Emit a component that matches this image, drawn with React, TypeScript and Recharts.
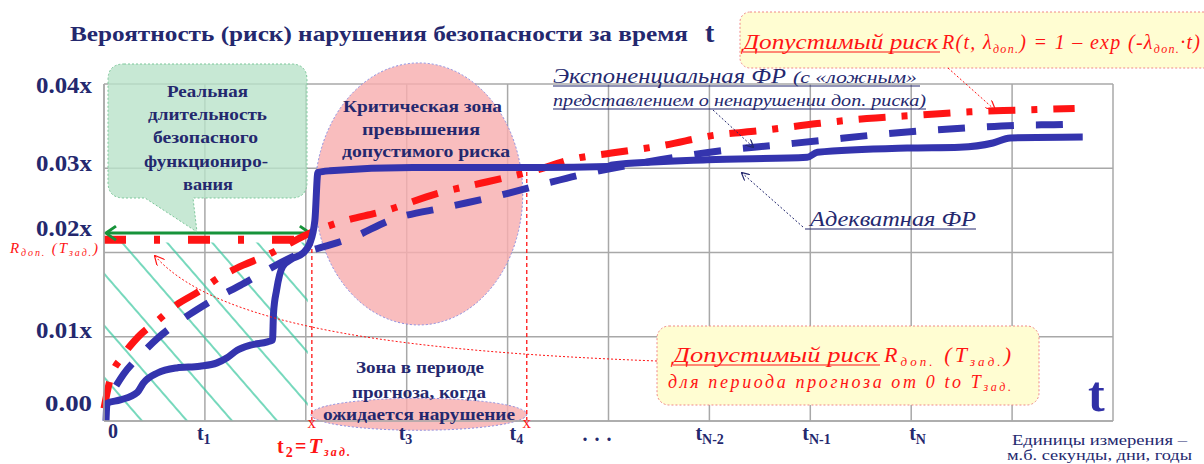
import React from 'react';
import {
  ComposedChart,
  Line,
  XAxis,
  YAxis,
  CartesianGrid,
  ReferenceArea,
  ReferenceLine,
  ReferenceDot,
} from 'recharts';

const NAVY = '#24286e';
const RED = '#ff1414';
const BLUE = '#3434ae';
const GRID = '#a8a8a8';
const SERIF = "'Liberation Serif', 'DejaVu Serif', 'Times New Roman', serif";
const FONT = { fontFamily: SERIF };

// axis ticks (grid units: x 0..10, y 0..4 -> 0.00..0.04)
const xTicks = [0, 1, 2, 3, 4, 5, 6, 7, 8, 9, 10];
const xTickMain = ['0', 't', 't', 't', 't', '. . .', 't', 't', 't', '', ''];
const xTickSub = ['', '1', '2', '3', '4', '', 'N-2', 'N-1', 'N', '', ''];
const yTicks = [0, 1, 2, 3, 4];
const yTickLabels = ['0.00', '0.01x', '0.02x', '0.03x', '0.04x'];

// "Адекватная ФР" - solid blue
const adequateX = [0.02, 0.03, 0.16, 0.33, 0.39, 0.53, 0.72, 0.95, 1.12, 1.22, 1.32, 1.45, 1.62, 1.67, 1.68, 1.71, 1.77, 1.87, 1.97, 2.04, 2.09, 2.12, 2.24, 3.06, 4.32, 4.99, 5.04, 5.98, 6.97, 7.07, 7.96, 8.48, 8.81, 8.98, 9.7];
const adequateY = [0.0, 0.21, 0.25, 0.34, 0.45, 0.57, 0.63, 0.65, 0.69, 0.75, 0.84, 0.9, 0.94, 0.96, 1.28, 1.55, 1.83, 1.93, 1.99, 2.11, 2.38, 2.95, 2.97, 3.01, 3.01, 3.02, 3.04, 3.1, 3.13, 3.19, 3.24, 3.25, 3.3, 3.36, 3.37];

// "Допустимый риск R(t)" - red dash-dot
const allowedX = [0.0, 0.06, 0.18, 0.34, 0.54, 0.72, 0.93, 1.15, 1.38, 1.62, 1.81, 2.06, 2.31, 2.8, 3.3, 3.8, 4.29, 4.65, 5.03, 5.54, 6.04, 6.53, 7.07, 7.56, 8.07, 8.58, 9.08, 9.62];
const allowedY = [0.15, 0.49, 0.76, 1.0, 1.2, 1.38, 1.53, 1.71, 1.85, 1.97, 2.09, 2.24, 2.35, 2.5, 2.7, 2.84, 2.98, 3.11, 3.18, 3.27, 3.39, 3.45, 3.53, 3.59, 3.63, 3.67, 3.69, 3.71];

// "Экспоненциальная ФР" - blue dashed
const expX = [0.12, 0.19, 0.36, 0.53, 0.72, 0.92, 1.13, 1.35, 1.57, 1.89, 2.24, 2.47, 2.83, 3.4, 3.86, 4.32, 4.72, 5.51, 6.13, 6.62, 7.12, 7.59, 8.07, 8.56, 9.05, 9.53, 9.67];
const expY = [0.42, 0.55, 0.78, 0.98, 1.16, 1.32, 1.47, 1.61, 1.76, 1.96, 2.09, 2.18, 2.38, 2.54, 2.66, 2.8, 2.92, 3.1, 3.21, 3.27, 3.33, 3.39, 3.44, 3.48, 3.51, 3.52, 3.53];

const tZad = 2.06;
const tFour = 4.19;
const rZadLevel = 2.15;
const arrowLevel = 2.23;
const tFourTop = 2.98;

const xLabelShift: Record<number, number> = { 0: 4, 4: 2, 5: -26, 6: -14, 8: -2 };
const yLabelShift: Record<number, number> = { 4: 1, 3: -5, 2: -25, 1: -7, 0: -18 };

const XTick = (p: any) => {
  const i = xTicks.indexOf(p.payload.value);
  const main = xTickMain[i];
  if (!main) return null;
  const x = p.x + (xLabelShift[i] ?? -8);
  if (i === 2) {
    return (
      <text x={277} y={453} fill={RED} style={FONT} fontWeight="bold" fontSize={20} textLength={73} lengthAdjust="spacing">
        t<tspan fontSize={14} dy={4}>2</tspan>
        <tspan dy={-4}>=</tspan>
        <tspan fontStyle="italic" fontSize={22}>T</tspan>
        <tspan fontStyle="italic" fontSize={12} dy={3}>зад.</tspan>
      </text>
    );
  }
  if (i === 5) {
    return (
      <text x={x} y={441} fill={NAVY} style={FONT} fontWeight="bold" fontSize={20} textLength={29} lengthAdjust="spacing">
        {main}
      </text>
    );
  }
  return (
    <text x={x} y={i === 0 ? 438 : 440} fill={NAVY} style={FONT} fontWeight="bold" fontSize={20}>
      {main}
      {xTickSub[i] && <tspan fontSize={14} dy={4}>{xTickSub[i]}</tspan>}
    </text>
  );
};

const YTick = (p: any) => {
  const v = p.payload.value;
  const i = yTicks.indexOf(v);
  return (
    <text x={92} y={p.y + (yLabelShift[v] ?? 0) + 8} textAnchor="end" fill={NAVY} style={FONT} fontWeight="bold" fontSize={23} textLength={i === 0 ? 47 : 56} lengthAdjust="spacingAndGlyphs">
      {yTickLabels[i]}
    </text>
  );
};

const EllipseShape = (p: any) => (
  <ellipse cx={p.x + p.width / 2} cy={p.y + p.height / 2} rx={p.width / 2} ry={p.height / 2} fill="#f8aeb0" fillOpacity={0.82} stroke="#8c8ce0" strokeDasharray="2 2" strokeWidth={1} />
);

const GreenArrow = (p: any) => {
  const { x1, y1, x2, y2 } = p;
  return (
    <g stroke="#17933a" strokeWidth={3} fill="none">
      <line x1={x1 + 2} y1={y1} x2={x2 - 2} y2={y2} />
      <polyline points={`${x1 + 12},${y1 - 7} ${x1 + 2},${y1} ${x1 + 12},${y1 + 7}`} />
      <polyline points={`${x2 - 12},${y2 - 7} ${x2 - 2},${y2} ${x2 - 12},${y2 + 7}`} />
    </g>
  );
};

const RedX = (p: any) => (
  <text x={p.cx} y={p.cy + 7} textAnchor="middle" fill={RED} style={FONT} fontSize={17}>
    x
  </text>
);

const Txt = ({ x, y, w, size, color = NAVY, bold = true, italic = false, children }: any) => (
  <text x={x} y={y} fontSize={size} fill={color} style={FONT} fontWeight={bold ? 'bold' : 'normal'} fontStyle={italic ? 'italic' : 'normal'} textLength={w} lengthAdjust="spacingAndGlyphs">
    {children}
  </text>
);

export default function App() {
  const adequate = adequateX.map((x, i) => ({ x, y: adequateY[i] }));
  const allowed = allowedX.map((x, i) => ({ x, y: allowedY[i] }));
  const expFR = expX.map((x, i) => ({ x, y: expY[i] }));

  return (
    <div style={{ position: 'absolute', left: 0, top: 0, width: 1204, height: 464, background: '#fff', fontFamily: SERIF }}>
      <ComposedChart width={1204} height={464} margin={{ top: 84, right: 91, bottom: 0, left: 0 }}>
        <defs>
          <pattern id="hatchGreen" patternUnits="userSpaceOnUse" width={34} height={34} patternTransform="rotate(-41)">
            <line x1={1} y1={0} x2={1} y2={34} stroke="#3cc8a0" strokeWidth={1.4} />
          </pattern>
        </defs>
        <CartesianGrid stroke={GRID} strokeWidth={1.5} />
        <XAxis type="number" dataKey="x" domain={[0, 10]} ticks={xTicks} interval={0} height={43} tickSize={0} tickMargin={0} tickLine={false} axisLine={{ stroke: GRID, strokeWidth: 1.5 }} tick={<XTick />} />
        <YAxis type="number" domain={[0, 4]} ticks={yTicks} interval={0} width={104} tickSize={0} tickMargin={0} tickLine={false} axisLine={{ stroke: GRID, strokeWidth: 1.5 }} tick={<YTick />} />
        <ReferenceArea x1={0} x2={2.02} y1={0} y2={2.12} fill="url(#hatchGreen)" fillOpacity={1} stroke="none" />
        <ReferenceArea x1={2.09} x2={4.15} y1={1.14} y2={4.25} ifOverflow="visible" shape={EllipseShape} />
        <ReferenceArea x1={2.05} x2={4.19} y1={-0.11} y2={0.27} ifOverflow="visible" shape={EllipseShape} />
        <ReferenceLine segment={[{ x: tZad, y: 0 }, { x: tZad, y: arrowLevel }]} stroke={RED} strokeWidth={1.3} strokeDasharray="4 3" />
        <ReferenceLine segment={[{ x: tFour, y: 0 }, { x: tFour, y: tFourTop }]} stroke={RED} strokeWidth={1.3} strokeDasharray="4 3" />
        <ReferenceLine segment={[{ x: 0, y: rZadLevel }, { x: 1.95, y: rZadLevel }]} stroke={RED} strokeWidth={8} strokeDasharray="22 28 6 28" />
        <ReferenceLine segment={[{ x: 0, y: arrowLevel }, { x: tZad, y: arrowLevel }]} shape={GreenArrow} />
        <Line data={expFR} dataKey="y" type="monotone" stroke={BLUE} strokeWidth={7} strokeDasharray="27 22" dot={false} activeDot={false} isAnimationActive={false} />
        <Line data={allowed} dataKey="y" type="monotone" stroke={RED} strokeWidth={7} strokeDasharray="27 16 6 16" dot={false} activeDot={false} isAnimationActive={false} />
        <Line data={adequate} dataKey="y" type="monotone" stroke={BLUE} strokeWidth={7} strokeLinejoin="round" dot={false} activeDot={false} isAnimationActive={false} />
        <ReferenceDot x={tZad} y={0} ifOverflow="visible" shape={RedX} />
        <ReferenceDot x={tFour} y={0} ifOverflow="visible" shape={RedX} />
      </ComposedChart>

      <svg width={1204} height={464} style={{ position: 'absolute', left: 0, top: 0, pointerEvents: 'none' }}>
        <defs>
          <marker id="headNavy" markerWidth={8} markerHeight={8} refX={7} refY={4} orient="auto">
            <path d="M0,0 L8,4 L0,8" fill="none" stroke={NAVY} strokeWidth={1.2} />
          </marker>
          <marker id="headRed" markerWidth={10} markerHeight={10} refX={9} refY={5} orient="auto">
            <path d="M0,0 L10,5 L0,10" fill="none" stroke={RED} strokeWidth={1.2} />
          </marker>
        </defs>

        {/* title */}
        <Txt x={70} y={41} w={618} size={22}>Вероятность  (риск) нарушения  безопасности  за время</Txt>
        <Txt x={705} y={42} size={28}>t</Txt>

        {/* green callout */}
        <path d="M124,64 H291 Q307,64 307,80 V182 Q307,198 291,198 H193 L197,232 L145,198 H124 Q108,198 108,182 V80 Q108,64 124,64 Z" fill="#b9e2c9" fillOpacity={0.8} stroke="#7cc79a" strokeDasharray="2 2" />
        <Txt x={167} y={97} w={81} size={17}>Реальная</Txt>
        <Txt x={148} y={120} w={119} size={17}>длительность</Txt>
        <Txt x={153} y={143} w={105} size={17}>безопасного</Txt>
        <Txt x={144} y={167} w={124} size={17}>функциониро-</Txt>
        <Txt x={183} y={190} w={50} size={17}>вания</Txt>

        {/* critical zone text */}
        <Txt x={343} y={112} w={159} size={16}>Критическая зона</Txt>
        <Txt x={362} y={135} w={118} size={16}>превышения</Txt>
        <Txt x={342} y={157} w={168} size={16}>допустимого риска</Txt>

        {/* forecast zone text */}
        <Txt x={356} y={373} w={128} size={16}>Зона в периоде</Txt>
        <Txt x={352} y={398} w={134} size={16}>прогноза, когда</Txt>
        <Txt x={323} y={420} w={192} size={16}>ожидается нарушение</Txt>

        {/* top yellow callout */}
        <rect x={740} y={12} width={480} height={56} rx={10} fill="#fffdd2" stroke="#f08888" strokeDasharray="2 2" />
        <Txt x={743} y={49} w={195} size={20} color={RED} bold={false} italic>Допустимый риск</Txt>
        <line x1={743} y1={52} x2={940} y2={52} stroke={RED} strokeWidth={1.2} />
        <text x={942} y={49} fontSize={20} fill={RED} style={FONT} fontStyle="italic" textLength={258} lengthAdjust="spacing">
          R(t, λ<tspan fontSize={12} dy={4}>доп.</tspan>
          <tspan dy={-4}>) = 1 – exp (-λ</tspan>
          <tspan fontSize={12} dy={4}>доп.</tspan>
          <tspan dy={-4}>·t)</tspan>
        </text>
        <line x1={948} y1={68} x2={995} y2={110} stroke={RED} strokeWidth={1} strokeDasharray="2 2" markerEnd="url(#headRed)" />

        {/* exponential FR caption */}
        <Txt x={553} y={83} w={233} size={21} bold={false} italic>Экспоненциальная ФР</Txt>
        <Txt x={793} y={83} w={124} size={16} bold={false} italic>(с «ложным»</Txt>
        <line x1={553} y1={86} x2={920} y2={86} stroke={NAVY} strokeWidth={1.2} />
        <Txt x={553} y={106} w={373} size={16} bold={false} italic>представлением о ненарушении доп. риска)</Txt>
        <line x1={553} y1={109} x2={926} y2={109} stroke={NAVY} strokeWidth={1.2} />
        <line x1={713} y1={110} x2={753} y2={147} stroke={NAVY} strokeWidth={1} strokeDasharray="2 2" markerEnd="url(#headNavy)" />

        {/* adequate FR caption */}
        <Txt x={810} y={226} w={166} size={21} bold={false} italic>Адекватная ФР</Txt>
        <line x1={805} y1={229} x2={976} y2={229} stroke={NAVY} strokeWidth={1.2} />
        <line x1={803} y1={227} x2={742} y2={173} stroke={NAVY} strokeWidth={1} strokeDasharray="2 2" markerEnd="url(#headNavy)" />

        {/* bottom yellow callout */}
        <path d="M657,361 C420,352 220,330 155,256" fill="none" stroke={RED} strokeWidth={1} strokeDasharray="2 2" markerEnd="url(#headRed)" />
        <rect x={657} y={326} width={382} height={79} rx={12} fill="#fffdd2" stroke="#f08888" strokeDasharray="2 2" />
        <Txt x={673} y={362} w={205} size={22} color={RED} bold={false} italic>Допустимый риск</Txt>
        <line x1={673} y1={365} x2={880} y2={365} stroke={RED} strokeWidth={1.2} />
        <text x={884} y={362} fontSize={22} fill={RED} style={FONT} fontStyle="italic" textLength={127} lengthAdjust="spacing">
          R<tspan fontSize={13} dy={4}>доп.</tspan>
          <tspan dy={-4}> (T</tspan>
          <tspan fontSize={13} dy={4}>зад.</tspan>
          <tspan dy={-4}>)</tspan>
        </text>
        <text x={668} y={388} fontSize={18} fill={RED} style={FONT} fontStyle="italic" textLength={343} lengthAdjust="spacing">
          для периода прогноза от 0 to T<tspan fontSize={12} dy={3}>зад.</tspan>
        </text>

        {/* R_доп label on y axis */}
        <text x={10} y={253} fontSize={15} fill={RED} style={FONT} fontStyle="italic" textLength={88} lengthAdjust="spacing">
          R<tspan fontSize={10} dy={3}>доп.</tspan>
          <tspan dy={-3}> (T</tspan>
          <tspan fontSize={10} dy={3}>зад.</tspan>
          <tspan dy={-3}>)</tspan>
        </text>

        {/* big t and units */}
        <text x={1088} y={411} fontSize={50} fontWeight="bold" fill="#3030a6" style={FONT}>t</text>
        <Txt x={1012} y={445} w={175} size={15} bold={false}>Единицы измерения –</Txt>
        <Txt x={1007} y={460} w={185} size={14} bold={false}>м.б. секунды, дни, годы</Txt>
      </svg>
    </div>
  );
}
